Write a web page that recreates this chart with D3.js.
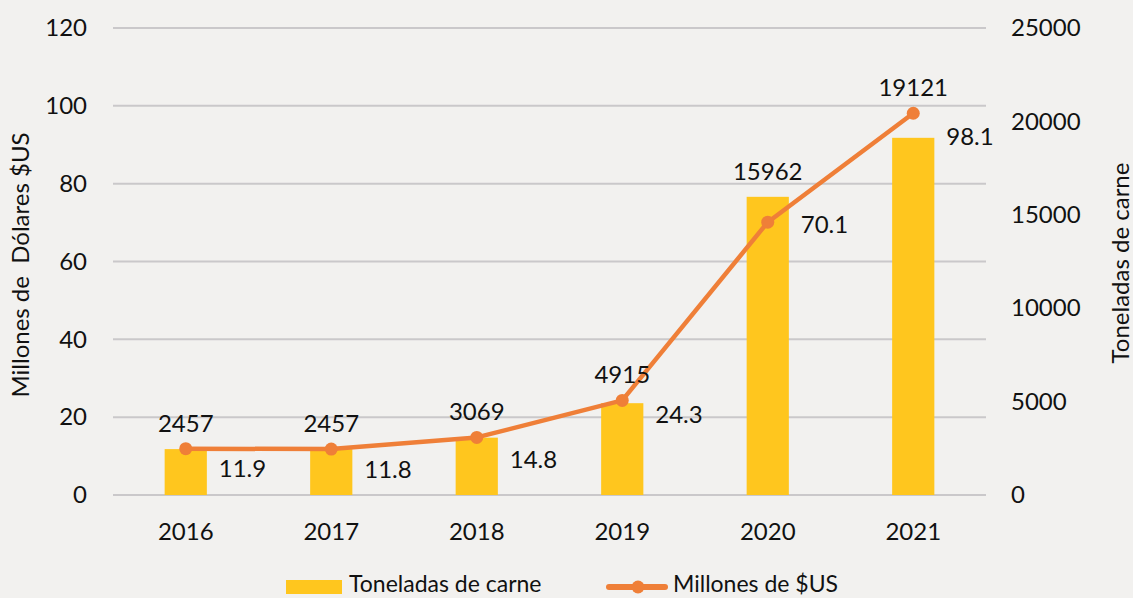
<!DOCTYPE html>
<html>
<head>
<meta charset="UTF-8">
<title></title>
<script src="https://d3js.org/d3.v7.min.js"></script>
<style>
  html, body { margin: 0; padding: 0; background: #f2f1ef; }
  svg text { font-family: Lato, "Open Sans", sans-serif; fill: #111; }
</style>
</head>
<body>
<div id="chart"></div>
<script>
const years = ['2016', '2017', '2018', '2019', '2020', '2021']
const toneladas = [2457, 2457, 3069, 4915, 15962, 19121]   // barras, eje derecho
const millones = [11.9, 11.8, 14.8, 24.3, 70.1, 98.1]      // linea, eje izquierdo
const leftTicks = [0, 20, 40, 60, 80, 100, 120]
const rightTicks = [0, 5000, 10000, 15000, 20000, 25000]
// desplazamiento vertical de las etiquetas de la linea (como quedaron en Excel)
const lineLabelDy = [20, 20, 22, 14, 2, 23]

const width = 1133
const height = 598
const plot = {left: 113, right: 986, top: 28, bottom: 495}
const barColor = '#ffc61e'
const lineColor = '#ef7f38'
const gridColor = '#cac8ca'

const svg = d3.select('#chart').append('svg').attr('width', width).attr('height', height)
svg.append('rect').attr('width', width).attr('height', height).attr('fill', '#f2f1ef')

const x = d3.scaleBand().domain(years).range([plot.left, plot.right])
  .paddingInner(0.71).paddingOuter(0.355)
const yL = d3.scaleLinear().domain([0, 120]).range([plot.bottom, plot.top])
const yR = d3.scaleLinear().domain([0, 25000]).range([plot.bottom, plot.top])
const cx = d => x(d) + x.bandwidth() / 2

// lineas de cuadricula
svg.append('g').selectAll('line').data(leftTicks).join('line')
  .attr('x1', plot.left).attr('x2', plot.right)
  .attr('y1', d => yL(d)).attr('y2', d => yL(d))
  .attr('stroke', gridColor).attr('stroke-width', 2)

// ejes
const gl = svg.append('g').attr('transform', `translate(${plot.left},0)`)
  .call(d3.axisLeft(yL).tickValues(leftTicks).tickSize(0).tickPadding(26))
const gr = svg.append('g').attr('transform', `translate(${plot.right},0)`)
  .call(d3.axisRight(yR).tickValues(rightTicks).tickFormat(d3.format('d')).tickSize(0).tickPadding(25))
const gx = svg.append('g').attr('transform', `translate(0,${plot.bottom})`)
  .call(d3.axisBottom(x).tickSize(0).tickPadding(28))
;[gl, gr, gx].forEach(g => {
  g.select('.domain').remove()
  g.selectAll('text').style('font-size', '24px').attr('font-family', null)
})

// barras
svg.append('g').selectAll('rect').data(years).join('rect')
  .attr('x', d => x(d)).attr('width', x.bandwidth())
  .attr('y', (d, i) => yR(toneladas[i]))
  .attr('height', (d, i) => plot.bottom - yR(toneladas[i]))
  .attr('fill', barColor)

// linea
const line = d3.line().x((d, i) => cx(years[i])).y(d => yL(d))
svg.append('path').attr('d', line(millones))
  .attr('fill', 'none').attr('stroke', lineColor).attr('stroke-width', 4.5)
  .attr('stroke-linejoin', 'round')
svg.append('g').selectAll('circle').data(millones).join('circle')
  .attr('cx', (d, i) => cx(years[i])).attr('cy', d => yL(d)).attr('r', 6.5)
  .attr('fill', lineColor)

// etiquetas de barras
svg.append('g').selectAll('text').data(toneladas).join('text')
  .attr('x', (d, i) => cx(years[i]))
  .attr('y', (d, i) => Math.min(yR(d), yL(millones[i])) - 17)
  .attr('text-anchor', 'middle').style('font-size', '24px')
  .text(d => d)

// etiquetas de la linea
svg.append('g').selectAll('text').data(millones).join('text')
  .attr('x', (d, i) => cx(years[i]) + 33)
  .attr('y', (d, i) => yL(d) + lineLabelDy[i] + 8.5)
  .style('font-size', '24px')
  .text(d => d.toFixed(1))

// titulos de ejes
svg.append('text')
  .attr('transform', 'translate(29,265) rotate(-90)')
  .attr('text-anchor', 'middle').style('font-size', '24px')
  .style('white-space', 'pre')
  .text('Millones de  Dólares $US')
svg.append('text')
  .attr('transform', 'translate(1129,263) rotate(-90)')
  .attr('text-anchor', 'middle').style('font-size', '24px')
  .text('Toneladas de carne')

// leyenda
const legend = svg.append('g')
legend.append('rect').attr('x', 286).attr('y', 580).attr('width', 56).attr('height', 14).attr('fill', barColor)
legend.append('text').attr('x', 349).attr('y', 592).style('font-size', '23px').text('Toneladas de carne')
legend.append('line').attr('x1', 609).attr('x2', 665).attr('y1', 587).attr('y2', 587)
  .attr('stroke', lineColor).attr('stroke-width', 6).attr('stroke-linecap', 'round')
legend.append('circle').attr('cx', 638).attr('cy', 587).attr('r', 6.5).attr('fill', lineColor)
legend.append('text').attr('x', 673).attr('y', 592).style('font-size', '23px').text('Millones de $US')
</script>
</body>
</html>
